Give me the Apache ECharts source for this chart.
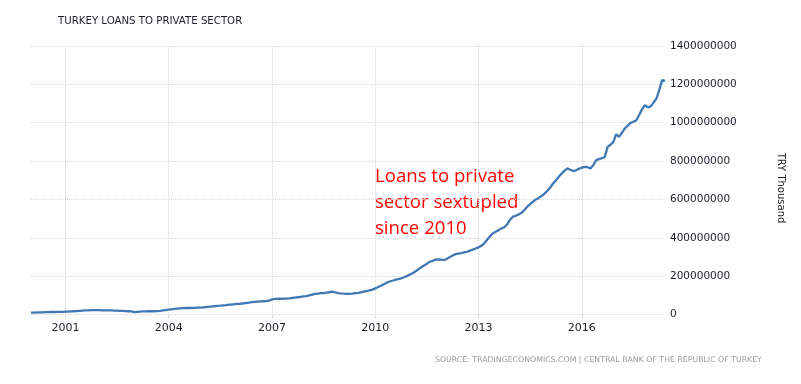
<!DOCTYPE html>
<html>
<head>
<meta charset="utf-8">
<script src="https://cdn.jsdelivr.net/npm/echarts@6/dist/echarts.min.js"></script>
<style>html,body{margin:0;padding:0;background:#fff}#c{width:801px;height:384px}</style>
</head>
<body>
<div id="c"></div>
<script>
// Monthly categories Jan 2000 .. Jun 2018
const startYear = 2000;
const months = [];
for (let i = 0; i < 222; i++) {
  const y = startYear + Math.floor(i / 12), m = (i % 12) + 1;
  months.push(y + '-' + (m < 10 ? '0' + m : m));
}
// Loans to private sector, in millions of the axis unit (value / 1e6)
const v2000 = [10,10,11,11,11,12,12,13,13,14,14,14];
const v2001 = [15,15,16,17,18,19,20,21,22,23,23,23];
const v2002 = [23,22,22,21,21,20,20,19,19,18,17,16];
const v2003 = [12,14,15,16,16,17,17,17,18,19,21,23];
const v2004 = [25,27,29,31,32,33,34,34,35,35,36,36];
const v2005 = [37,39,40,42,43,45,46,48,49,51,52,54];
const v2006 = [55,56,58,60,62,65,66,67,68,69,70,72];
const v2007 = [79,81,82,82,83,83,84,86,88,90,92,94];
const v2008 = [96,100,104,107,109,111,112,114,116,119,116,112];
const v2009 = [110,109,108,108,109,111,113,116,119,122,126,130];
const v2010 = [136,143,150,158,166,172,176,180,184,188,194,200];
const v2011 = [208,215,224,235,246,255,265,275,280,286,288,286];
const v2012 = [284,290,300,308,315,318,320,324,327,333,338,344];
const v2013 = [350,358,371,390,408,423,432,440,449,455,470,495];
const v2014 = [510,515,522,530,545,562,575,588,600,608,618,630];
const v2015 = [645,662,683,700,718,735,750,762,755,748,752,760];
const v2016 = [766,770,768,762,778,805,810,815,822,874,885,900];
const v2017 = [940,926,948,970,985,999,1005,1013,1040,1070,1091,1080];
const v2018 = [1085,1105,1126,1170,1222,1218];
const valuesM = [].concat(v2000,v2001,v2002,v2003,v2004,v2005,v2006,v2007,v2008,v2009,
  v2010,v2011,v2012,v2013,v2014,v2015,v2016,v2017,v2018);
const tickYears = [2001, 2004, 2007, 2010, 2013, 2016];
const yTicks = [0, 200000000, 400000000, 600000000, 800000000, 1000000000, 1200000000, 1400000000];

const chart = echarts.init(document.getElementById('c'), null, {renderer: 'canvas'});
const isTick = (idx) => {
  const s = months[idx];
  const y = +s.slice(0, 4), m = +s.slice(5);
  return m === 1 && tickYears.indexOf(y) >= 0;
};
chart.setOption({
  animation: false,
  backgroundColor: '#fff',
  title: {
    text: 'TURKEY LOANS TO PRIVATE SECTOR',
    left: 53, top: 11,
    textStyle: {fontFamily: 'DejaVu Sans', fontSize: 10.2, fontWeight: 'normal', color: '#1e1e2a'}
  },
  graphic: [
    {
      type: 'text', left: 435, top: 356,
      style: {text: 'SOURCE: TRADINGECONOMICS.COM | CENTRAL BANK OF THE REPUBLIC OF TURKEY',
        font: '7.8px "DejaVu Sans"', fill: '#9a9a9a'}
    },
    {
      type: 'text', left: 375, top: 164,
      style: {text: 'Loans to private\nsector sextupled\nsince 2010',
        font: '18.6px "Open Sans"', fill: '#ff0000', lineHeight: 25.8}
    },
    {
      type: 'text', x: 781, y: 188, rotation: -Math.PI / 2,
      style: {text: 'TRY Thousand', font: '10px "DejaVu Sans"', fill: '#222',
        align: 'center', verticalAlign: 'middle'}
    }
  ],
  grid: {left: 31, right: 136, top: 46, bottom: 69.5},
  xAxis: {
    type: 'category',
    data: months,
    boundaryGap: false,
    axisLine: {show: false},
    axisTick: {show: true, interval: isTick, length: 4, lineStyle: {color: '#ddd'}},
    axisLabel: {
      interval: isTick,
      formatter: (v) => v.slice(0, 4),
      fontFamily: 'DejaVu Sans', fontSize: 11, color: '#1e1e2a', margin: 8
    },
    splitLine: {show: true, interval: isTick, lineStyle: {color: '#d6d6d6', type: 'dotted', width: 1}}
  },
  yAxis: {
    type: 'value',
    position: 'right',
    min: yTicks[0], max: yTicks[yTicks.length - 1], interval: yTicks[1] - yTicks[0],
    axisLine: {show: false},
    axisTick: {show: false},
    axisLabel: {
      fontFamily: 'DejaVu Sans', fontSize: 10.5, color: '#1e1e2a', margin: 5,
      formatter: (v) => String(v)
    },
    splitLine: {show: true, lineStyle: {color: '#d6d6d6', type: 'dotted', width: 1}}
  },
  series: [{
    type: 'line',
    data: valuesM.map(v => v * 1000000),
    showSymbol: false,
    smooth: false,
    lineStyle: {color: '#4178b4', width: 2.3},
    itemStyle: {color: '#4178b4'}
  }]
});
</script>
</body>
</html>
